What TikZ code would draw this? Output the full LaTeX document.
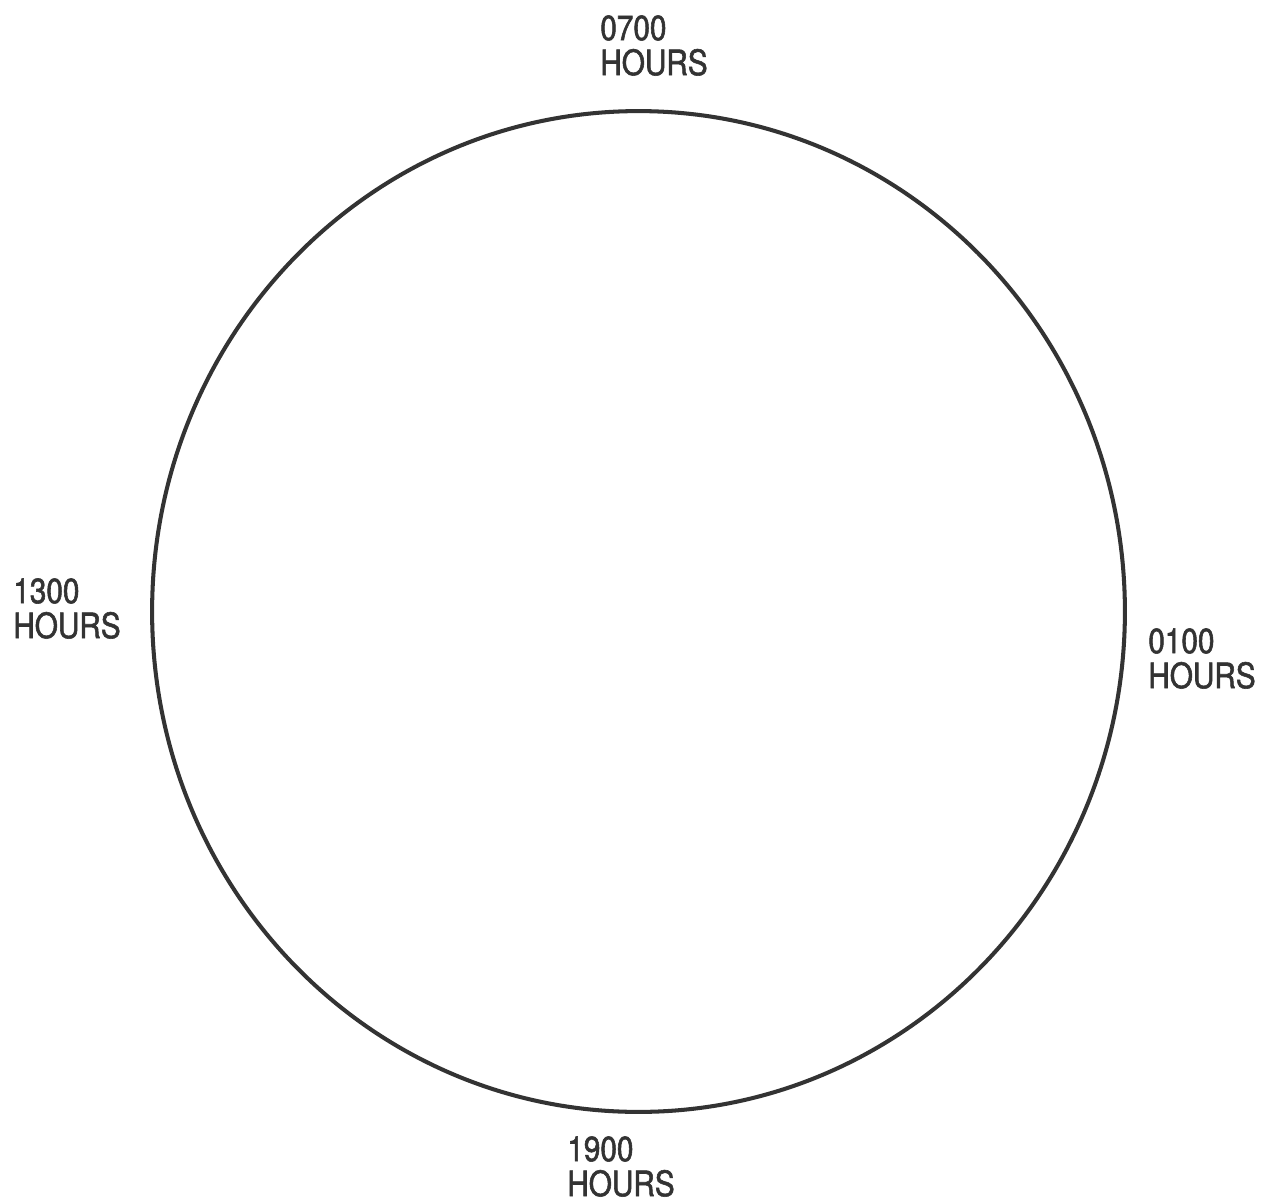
\documentclass[tikz,border=0pt]{standalone}
\usepackage{fontspec}
\usetikzlibrary{shapes.geometric}
\newfontfamily\lblfont[FakeStretch=0.85,FakeBold=1.6]{TeX Gyre Heros}
\tikzset{
  lbl/.style={font=\lblfont\fontsize{19.9pt}{19.9pt}\selectfont, align=left, inner sep=0pt, anchor=north west, text=black!80},
  ring/.style={draw=black!80, line width=2.3pt}
}
\begin{document}
\begin{tikzpicture}[x=0.02cm,y=-0.02cm]
\useasboundingbox (0,0) rectangle (1263,1203);
\fill[white] (0,0) rectangle (1263,1203);
\node[ring, ellipse, minimum width=19.46cm, minimum height=20.02cm, inner sep=0pt] (clock) at (638.5,611.5) {};
\node[lbl] (h07) at (600,15) {0700\\HOURS};
\node[lbl] (h13) at (13,578) {1300\\HOURS};
\node[lbl] (h01) at (1148,628) {0100\\HOURS};
\node[lbl] (h19) at (567,1136) {1900\\HOURS};
\end{tikzpicture}
\end{document}
